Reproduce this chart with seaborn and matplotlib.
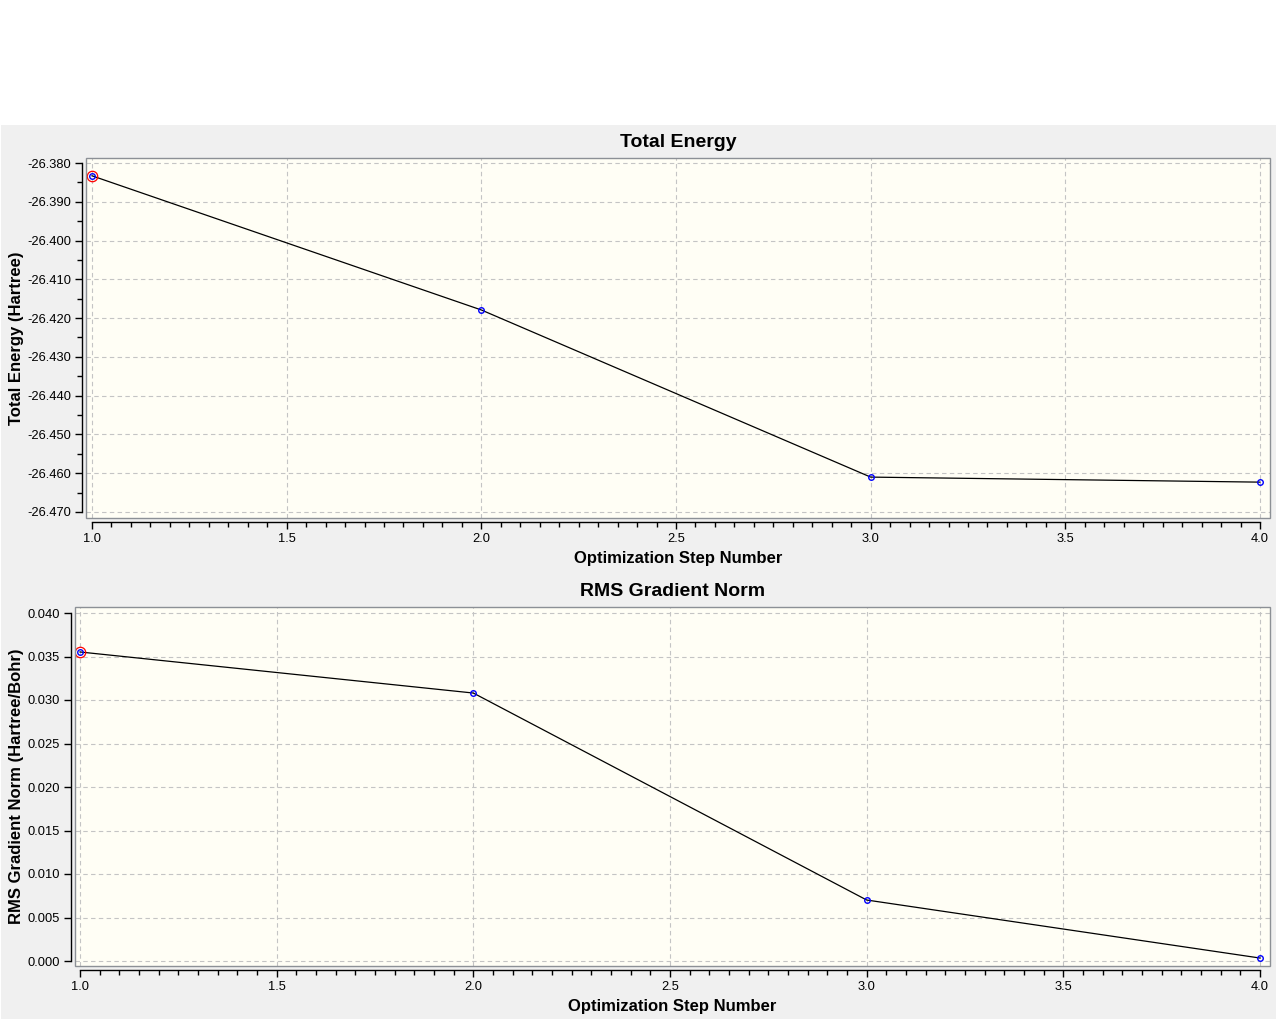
import numpy as np
import pandas as pd
import matplotlib.pyplot as plt
import seaborn as sns
from matplotlib.patches import Rectangle
from matplotlib.ticker import MultipleLocator, FormatStrFormatter

# data
steps = [1, 2, 3, 4]
total_energy = [-26.3833, -26.4179, -26.4610, -26.4623]
rms_gradient = [0.03552, 0.03080, 0.00701, 0.00034]

energy_range = (-26.470, -26.380)
gradient_range = (0.000, 0.040)
step_range = (1.0, 4.0)

W, H = 1276, 1019
plt.rcParams['font.family'] = ['Liberation Sans', 'DejaVu Sans']
plt.rcParams['axes.unicode_minus'] = False

fig = plt.figure(figsize=(W / 100, H / 100), dpi=100)
fig.patch.set_facecolor('white')
fig.add_artist(Rectangle((1 / W, 0), 1 - 1 / W, (H - 125) / H, transform=fig.transFigure,
                         facecolor='#f0f0f0', edgecolor='none', zorder=-10))


def make_panel(frame, data_px, yrange, xlabel_top, ylabel_right):
    # frame = (left, top, right, bottom) pixels, data_px = pixel spots of the range ends
    l, t, r, b = frame
    ax = fig.add_axes([l / W, 1 - b / H, (r - l) / W, (b - t) / H])
    x0p, x1p, ytp, ybp = data_px
    xa, xb = step_range
    sx = (xb - xa) / (x1p - x0p)
    ax.set_xlim(xa - (x0p - l) * sx, xb + (r - x1p) * sx)
    ylo, yhi = yrange
    sy = (yhi - ylo) / (ybp - ytp)
    ax.set_ylim(ylo - (b - ybp) * sy, yhi + (ytp - t) * sy)

    ax.set_facecolor('#fffef5')
    for side in ['top', 'right']:
        ax.spines[side].set_visible(False)
    for side in ['left', 'bottom']:
        ax.spines[side].set_position(('outward', 2.6))
        ax.spines[side].set_color('black')
        ax.spines[side].set_linewidth(1.0)
    ax.spines['left'].set_bounds(ylo, yhi)
    ax.spines['bottom'].set_bounds(xa, xb)
    ax.add_patch(Rectangle((0, 0), 1, 1, transform=ax.transAxes, fill=False,
                           edgecolor='#8c9096', linewidth=1.0, clip_on=False, zorder=5))

    ax.grid(True, which='major', color='#c4c4c4', linestyle=(0, (4, 3)), linewidth=0.8)
    ax.set_axisbelow(True)
    ax.xaxis.set_major_locator(MultipleLocator(0.5))
    ax.xaxis.set_minor_locator(MultipleLocator(0.05))
    ax.xaxis.set_major_formatter(FormatStrFormatter('%.1f'))
    ax.yaxis.set_major_formatter(FormatStrFormatter('%.3f'))
    ax.tick_params(which='major', direction='out', length=5.2, width=1.0, color='black',
                   labelsize=9.3, pad=3, labelcolor='black')
    ax.tick_params(which='minor', direction='out', length=3.8, width=1.0, color='black')

    ax.xaxis.set_label_coords(0.5, (b - xlabel_top) / (b - t))
    ax.yaxis.set_label_coords((ylabel_right - l) / (r - l), 0.5)
    return ax


# Graph 1 - Total Energy
ax1 = make_panel((86, 158, 1270, 518), (92, 1260, 163, 512), energy_range, 551, 24)
ax1.yaxis.set_major_locator(MultipleLocator(0.01))
ax1.yaxis.set_minor_locator(MultipleLocator(0.005))
sns.lineplot(x=steps, y=total_energy, color='black', linewidth=0.9, marker='o',
             markersize=4, markerfacecolor='none', markeredgecolor='blue',
             markeredgewidth=1.0, ax=ax1)
ax1.plot(steps[0], total_energy[0], 'o', ms=7.5, mfc='none', mec='red', mew=0.9)
ax1.set_title('Total Energy', fontsize=14, fontweight='bold', pad=8)
ax1.set_xlabel('Optimization Step Number', fontsize=12, fontweight='bold')
ax1.set_ylabel('Total Energy (Hartree)', fontsize=12, fontweight='bold')

# Graph 2 - RMS Gradient Norm
ax2 = make_panel((75, 607, 1270, 966), (80, 1260, 613, 961), gradient_range, 999, 24)
ax2.yaxis.set_major_locator(MultipleLocator(0.005))
sns.lineplot(x=steps, y=rms_gradient, color='black', linewidth=0.9, marker='o',
             markersize=4, markerfacecolor='none', markeredgecolor='blue',
             markeredgewidth=1.0, ax=ax2)
ax2.plot(steps[0], rms_gradient[0], 'o', ms=7.5, mfc='none', mec='red', mew=0.9)
ax2.set_title('RMS Gradient Norm', fontsize=14, fontweight='bold', pad=8)
ax2.set_xlabel('Optimization Step Number', fontsize=12, fontweight='bold')
ax2.set_ylabel('RMS Gradient Norm (Hartree/Bohr)', fontsize=12, fontweight='bold')

plt.savefig('out.png', dpi=100, facecolor=fig.get_facecolor())
